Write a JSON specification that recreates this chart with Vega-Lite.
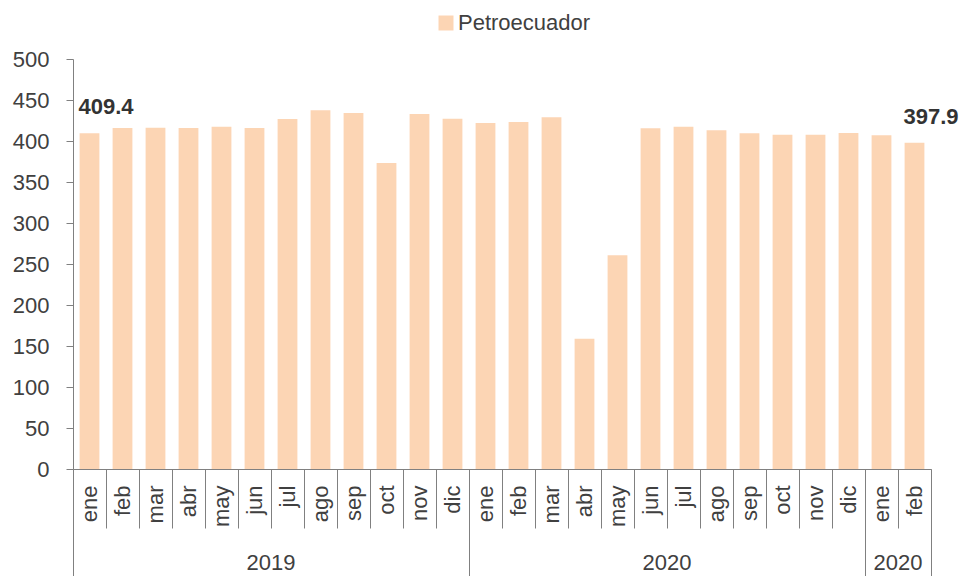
{
  "$schema": "https://vega.github.io/schema/vega-lite/v6.json",
  "width": 858,
  "height": 410,
  "autosize": {"type": "none"},
  "padding": {"left": 73, "top": 59, "right": 33, "bottom": 107},
  "background": "white",
  "config": {
    "view": {"stroke": null},
    "font": "Liberation Sans",
    "axis": {"labelFont": "Liberation Sans", "grid": false, "title": null}
  },
  "data": {
    "values": [
      {"id": 1, "mes": "ene", "serie": "Petroecuador", "valor": 409.4},
      {"id": 2, "mes": "feb", "serie": "Petroecuador", "valor": 416.0},
      {"id": 3, "mes": "mar", "serie": "Petroecuador", "valor": 416.3},
      {"id": 4, "mes": "abr", "serie": "Petroecuador", "valor": 416.0},
      {"id": 5, "mes": "may", "serie": "Petroecuador", "valor": 417.5},
      {"id": 6, "mes": "jun", "serie": "Petroecuador", "valor": 416.0},
      {"id": 7, "mes": "jul", "serie": "Petroecuador", "valor": 426.8},
      {"id": 8, "mes": "ago", "serie": "Petroecuador", "valor": 437.4},
      {"id": 9, "mes": "sep", "serie": "Petroecuador", "valor": 434.1},
      {"id": 10, "mes": "oct", "serie": "Petroecuador", "valor": 373.2},
      {"id": 11, "mes": "nov", "serie": "Petroecuador", "valor": 432.9},
      {"id": 12, "mes": "dic", "serie": "Petroecuador", "valor": 427.2},
      {"id": 13, "mes": "ene", "serie": "Petroecuador", "valor": 422.0},
      {"id": 14, "mes": "feb", "serie": "Petroecuador", "valor": 423.2},
      {"id": 15, "mes": "mar", "serie": "Petroecuador", "valor": 428.9},
      {"id": 16, "mes": "abr", "serie": "Petroecuador", "valor": 158.9},
      {"id": 17, "mes": "may", "serie": "Petroecuador", "valor": 260.6},
      {"id": 18, "mes": "jun", "serie": "Petroecuador", "valor": 415.5},
      {"id": 19, "mes": "jul", "serie": "Petroecuador", "valor": 417.5},
      {"id": 20, "mes": "ago", "serie": "Petroecuador", "valor": 413.0},
      {"id": 21, "mes": "sep", "serie": "Petroecuador", "valor": 409.3},
      {"id": 22, "mes": "oct", "serie": "Petroecuador", "valor": 407.7},
      {"id": 23, "mes": "nov", "serie": "Petroecuador", "valor": 407.7},
      {"id": 24, "mes": "dic", "serie": "Petroecuador", "valor": 409.8},
      {"id": 25, "mes": "ene", "serie": "Petroecuador", "valor": 406.9},
      {"id": 26, "mes": "feb", "serie": "Petroecuador", "valor": 397.9}
    ]
  },
  "layer": [
    {
      "mark": {"type": "bar", "width": {"band": 0.6}},
      "encoding": {
        "x": {
          "field": "id", "type": "ordinal",
          "scale": {"paddingInner": 0, "paddingOuter": 0},
          "axis": {
            "orient": "bottom",
            "tickBand": "extent",
            "tickSize": 59,
            "tickColor": "#808080",
            "domainColor": "#808080",
            "labelAngle": -90,
            "labelAlign": "right",
            "labelBaseline": "middle",
            "labelPadding": -43,
            "labelFontSize": 22,
            "labelColor": "#404040",
            "labelExpr": "['ene','feb','mar','abr','may','jun','jul','ago','sep','oct','nov','dic'][(datum.value - 1) % 12]"
          }
        },
        "y": {
          "field": "valor", "type": "quantitative",
          "scale": {"domain": [0, 500], "nice": false},
          "axis": {
            "values": [0, 50, 100, 150, 200, 250, 300, 350, 400, 450, 500],
            "tickSize": 7,
            "tickColor": "#808080",
            "domainColor": "#808080",
            "labelPadding": 17,
            "labelFontSize": 22,
            "labelColor": "#404040"
          }
        },
        "color": {
          "field": "serie", "type": "nominal",
          "scale": {"range": ["#FCD5B4"]},
          "legend": {
            "title": null,
            "orient": "none",
            "legendX": 362,
            "legendY": -47,
            "symbolType": "square",
            "symbolSize": 225,
            "symbolStrokeWidth": 0,
            "labelOffset": 1,
            "labelFont": "Liberation Sans",
            "labelFontSize": 22,
            "labelColor": "#404040"
          }
        }
      }
    },
    {
      "transform": [{"filter": "datum.id == 1 || datum.id == 26"}],
      "mark": {"type": "text", "align": "left", "baseline": "alphabetic", "dx": -11, "dy": -19, "fontSize": 22, "fontWeight": "bold", "color": "#333333", "font": "Liberation Sans"},
      "encoding": {
        "x": {
          "field": "id", "type": "ordinal",
          "axis": {
            "orient": "bottom",
            "tickBand": "extent",
            "values": [1, 12, 24, 26],
            "tickSize": 110,
            "tickColor": "#808080",
            "tickOpacity": {"condition": {"test": "datum.value === 1", "value": 0}, "value": 1},
            "labels": false,
            "domain": false
          }
        },
        "y": {"field": "valor", "type": "quantitative"},
        "text": {"field": "valor", "type": "quantitative", "format": ".1f"}
      }
    },
    {
      "mark": {"type": "bar", "opacity": 0, "width": {"band": 0.6}},
      "encoding": {
        "x": {
          "field": "id", "type": "ordinal",
          "axis": {
            "orient": "bottom",
            "values": [6, 18, 25],
            "labelOffset": 16.5,
            "ticks": false,
            "domain": false,
            "labelAngle": 0,
            "labelAlign": "center",
            "labelBaseline": "top",
            "labelPadding": 83,
            "labelFontSize": 22,
            "labelColor": "#404040",
            "labelExpr": "datum.value == 6 ? '2019' : '2020'"
          }
        },
        "y": {"field": "valor", "type": "quantitative"}
      }
    }
  ],
  "resolve": {"axis": {"x": "independent"}}
}
